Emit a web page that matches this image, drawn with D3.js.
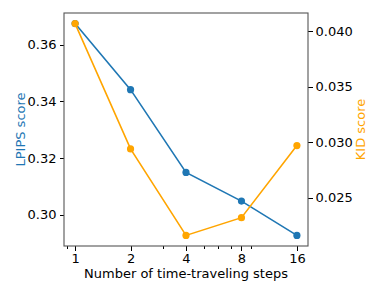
<!DOCTYPE html>
<meta charset="utf-8">
<style>
body { margin: 0; background: #fff; }
text { font-family: "DejaVu Sans", sans-serif; }
.axis text { font-size: 13px; fill: #000; }
.axis line { stroke: #000; stroke-width: 1; shape-rendering: crispEdges; }
.axis path { display: none; }
</style>
<body>
<script src="https://cdn.jsdelivr.net/npm/d3@7"></script>
<script>

var steps = [1, 2, 4, 8, 16];
var lpips = [0.3674, 0.3441, 0.3149, 0.3048, 0.2927];
var kid = [0.0407, 0.0294, 0.0216, 0.0232, 0.0297];

var stepTicks = [1, 2, 4, 8, 16];
var stepMinor = [0.9, 3, 5, 6, 7, 9];
var lpipsTicks = [0.30, 0.32, 0.34, 0.36];
var kidTicks = [0.025, 0.030, 0.035, 0.040];

var blue = "#1f77b4", orange = "#ffa500";

var margin = {top: 13, right: 73, bottom: 47, left: 64},
    width = 381 - margin.left - margin.right,
    height = 293 - margin.top - margin.bottom;

function padded(ext) {
  var m = (ext[1] - ext[0]) * 0.05;
  return [ext[0] - m, ext[1] + m];
}

var lo = Math.log2(1), hi = Math.log2(16), lm = (hi - lo) * 0.05;
var x = d3.scaleLog().base(2)
    .domain([Math.pow(2, lo - lm), Math.pow(2, hi + lm)])
    .range([0, width]);

var yL = d3.scaleLinear().domain(padded(d3.extent(lpips))).range([height, 0]);
var yR = d3.scaleLinear().domain(padded(d3.extent(kid))).range([height, 0]);

var svg = d3.select("body").append("svg")
    .attr("width", 381)
    .attr("height", 293)
  .append("g")
    .attr("transform", "translate(" + margin.left + "," + margin.top + ")");

// minor x ticks
svg.append("g")
    .attr("class", "axis")
    .attr("transform", "translate(0," + height + ")")
    .call(d3.axisBottom(x).tickValues(stepMinor).tickSize(2.6).tickFormat(""));

svg.append("g")
    .attr("class", "axis")
    .attr("transform", "translate(0," + height + ")")
    .call(d3.axisBottom(x).tickValues(stepTicks).tickSize(4.5).tickPadding(3)
      .tickFormat(d3.format("d")));

svg.append("g")
    .attr("class", "axis")
    .call(d3.axisLeft(yL).tickValues(lpipsTicks).tickSize(4.5).tickPadding(3)
      .tickFormat(d3.format(".2f")));

svg.append("g")
    .attr("class", "axis")
    .attr("transform", "translate(" + width + ",0)")
    .call(d3.axisRight(yR).tickValues(kidTicks).tickSize(4.5).tickPadding(3)
      .tickFormat(d3.format(".3f")));

// frame
svg.append("rect")
    .attr("width", width)
    .attr("height", height)
    .attr("fill", "none")
    .attr("stroke", "#555")
    .attr("stroke-width", 1.1);

var series = [
  {vals: lpips, y: yL, color: blue},
  {vals: kid, y: yR, color: orange}
];

series.forEach(function(s) {
  var line = d3.line()
      .x(function(d, i) { return x(steps[i]); })
      .y(function(d) { return s.y(d); });
  svg.append("path")
      .datum(s.vals)
      .attr("fill", "none")
      .attr("stroke", s.color)
      .attr("stroke-width", 1.6)
      .attr("d", line);
  svg.selectAll(null)
      .data(s.vals)
      .enter().append("circle")
      .attr("cx", function(d, i) { return x(steps[i]); })
      .attr("cy", function(d) { return s.y(d); })
      .attr("r", 3.6)
      .attr("fill", s.color);
});

svg.append("text")
    .attr("x", width / 2)
    .attr("y", height + 32)
    .attr("text-anchor", "middle")
    .style("font-size", "13px")
    .text("Number of time-traveling steps");

svg.append("text")
    .attr("transform", "translate(" + (-39) + "," + (height / 2) + ") rotate(-90)")
    .attr("text-anchor", "middle")
    .style("font-size", "13px")
    .attr("fill", blue)
    .text("LPIPS score");

svg.append("text")
    .attr("transform", "translate(" + (width + 57) + "," + (height / 2) + ") rotate(-90)")
    .attr("text-anchor", "middle")
    .style("font-size", "13px")
    .attr("fill", orange)
    .text("KID score");

</script>
